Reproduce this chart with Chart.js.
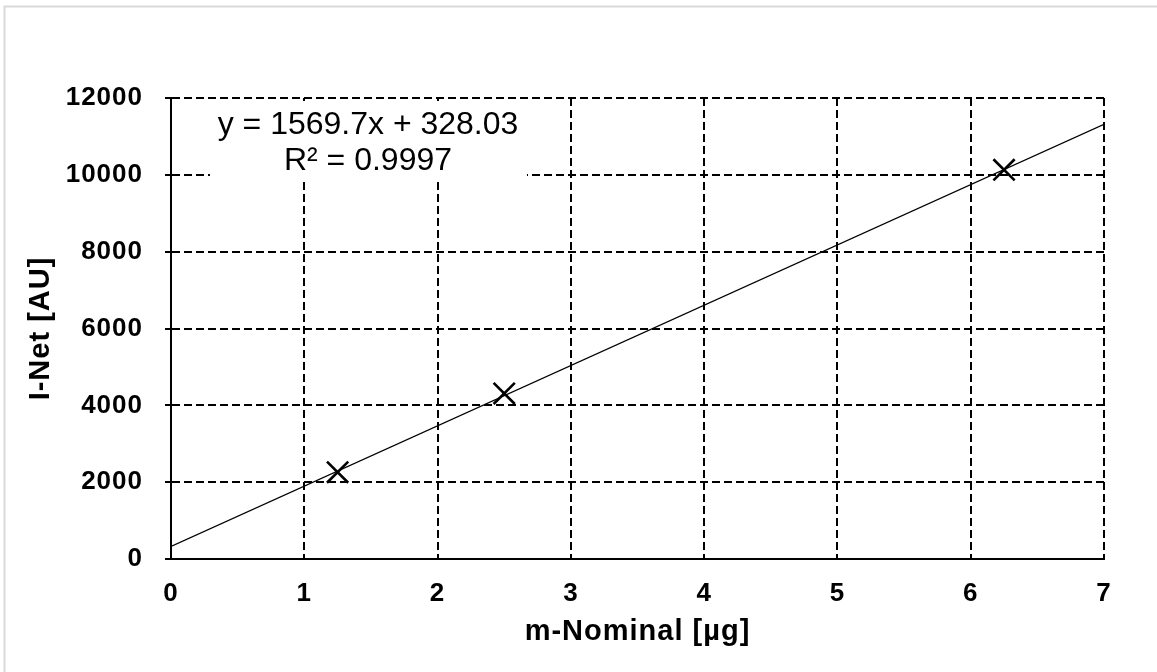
<!DOCTYPE html>
<html>
<head>
<meta charset="utf-8">
<script src="https://cdn.jsdelivr.net/npm/chart.js@4.4.1/dist/chart.umd.min.js"></script>
<style>
  html, body { margin: 0; padding: 0; background: #fff; }
  #wrap { width: 1157px; height: 672px; }
</style>
</head>
<body>
<div id="wrap"><canvas id="calChart" width="1157" height="672"></canvas></div>
<script>
// measured calibration points
const massNominal = [1.25, 2.5, 6.25];          // m-Nominal [µg]
const intensityNet = [2260, 4310, 10130];       // I-Net [AU]

// linear trendline as printed on the chart
const trendSlope = 1569.7;
const trendIntercept = 328.03;
const trendRange = [0, 7];
const trendLabel = ["y = 1569.7x + 328.03", "R\u00b2 = 0.9997"];

// tick labels
const xTickValues = [0, 1, 2, 3, 4, 5, 6, 7];
const yTickValues = [0, 2000, 4000, 6000, 8000, 10000, 12000];

const points = massNominal.map((x, i) => ({ x: x, y: intensityNet[i] }));
const trendPoints = trendRange.map((x) => ({ x: x, y: trendSlope * x + trendIntercept }));

const FONT = "'Liberation Sans', Arial, sans-serif";

// light frame around the chart + letter spacing for the stretched excel text
const framePlugin = {
  id: "frame",
  beforeDraw(chart) {
    const ctx = chart.ctx;
    ctx.save();
    ctx.fillStyle = "#fff";
    ctx.fillRect(0, 0, chart.width, chart.height);
    ctx.strokeStyle = "#d9d9d9";
    ctx.lineWidth = 2;
    ctx.strokeRect(4.5, 6.5, chart.width + 20, chart.height + 20);
    ctx.restore();
    ctx.letterSpacing = "1px";
  },
  afterDraw(chart) {
    chart.ctx.letterSpacing = "0px";
  },
};

// equation box (white background hides the grid behind it)
const equationPlugin = {
  id: "equation",
  afterDatasetsDraw(chart) {
    const ctx = chart.ctx;
    const area = chart.chartArea;
    ctx.save();
    ctx.letterSpacing = "0px";
    ctx.fillStyle = "#fff";
    ctx.fillRect(area.left + 39, area.top + 3, 317, 80);
    ctx.fillStyle = "#000";
    ctx.font = "32px " + FONT;
    ctx.textAlign = "center";
    ctx.textBaseline = "middle";
    const cx = area.left + 197;
    ctx.fillText(trendLabel[0], cx, area.top + 27);
    ctx.fillText(trendLabel[1], cx, area.top + 63);
    ctx.restore();
    ctx.letterSpacing = "1px";
  },
};

new Chart(document.getElementById("calChart").getContext("2d"), {
  type: "scatter",
  data: {
    datasets: [
      {
        label: "Trend",
        type: "line",
        data: trendPoints,
        borderColor: "#000",
        borderWidth: 1.4,
        pointRadius: 0,
        fill: false,
        order: 2,
      },
      {
        label: "I-Net",
        data: points,
        pointStyle: "crossRot",
        pointRadius: 15,
        pointHoverRadius: 15,
        borderColor: "#000",
        backgroundColor: "#000",
        pointBorderWidth: 2.6,
        order: 1,
      },
    ],
  },
  options: {
    responsive: false,
    animation: false,
    events: [],
    layout: { padding: { top: 98, right: 53, left: 0, bottom: 0 } },
    plugins: {
      legend: { display: false },
      tooltip: { enabled: false },
    },
    scales: {
      x: {
        type: "linear",
        min: 0,
        max: 7,
        afterBuildTicks: (scale) => {
          scale.ticks = xTickValues.map((v) => ({ value: v }));
        },
        afterFit: (scale) => {
          scale.height = 113;
        },
        grid: { color: "#000", lineWidth: 2, drawTicks: false },
        border: { display: true, color: "#000", width: 2, dash: [8, 4] },
        ticks: {
          color: "#000",
          padding: 19,
          maxRotation: 0,
          callback: (v) => String(v),
          font: { family: FONT, size: 26, weight: "bold" },
        },
        title: {
          display: true,
          text: "m-Nominal [\u00b5g]",
          color: "#000",
          padding: { top: 0, bottom: 23 },
          font: { family: FONT, size: 29, weight: "bold" },
        },
      },
      y: {
        type: "linear",
        min: 0,
        max: 12000,
        afterBuildTicks: (scale) => {
          scale.ticks = yTickValues.map((v) => ({ value: v }));
        },
        afterFit: (scale) => {
          scale.width = 171;
        },
        grid: { color: "#000", lineWidth: 2, drawTicks: true, tickLength: 6 },
        border: { display: true, color: "#000", width: 2, dash: [8, 4] },
        ticks: {
          color: "#000",
          padding: 22,
          callback: (v) => String(v),
          font: { family: FONT, size: 26, weight: "bold" },
        },
        title: {
          display: true,
          text: "I-Net [AU]",
          color: "#000",
          padding: { top: 24, bottom: 0 },
          font: { family: FONT, size: 29, weight: "bold" },
        },
      },
    },
  },
  plugins: [framePlugin, equationPlugin],
});
</script>
</body>
</html>
